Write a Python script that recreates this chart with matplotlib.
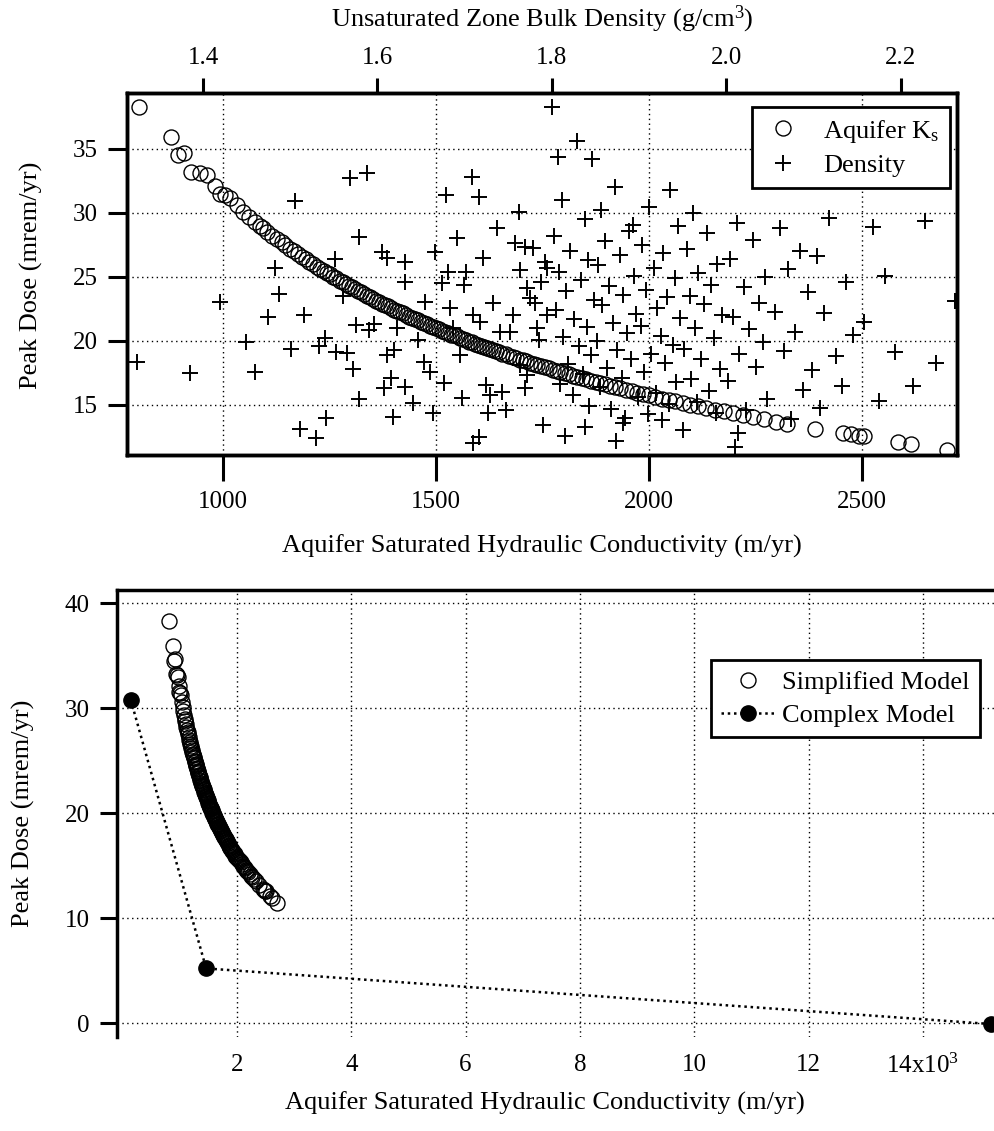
import matplotlib
matplotlib.use("Agg")
import matplotlib.pyplot as plt
from matplotlib.lines import Line2D

plt.rcParams['font.family'] = ['Liberation Serif', 'DejaVu Serif']
plt.rcParams['mathtext.fontset'] = 'custom'
plt.rcParams['mathtext.rm'] = 'Liberation Serif'
plt.rcParams['mathtext.it'] = 'Liberation Serif:italic'

# ---------------- data ----------------
# Simplified model: aquifer saturated hydraulic conductivity (m/yr) vs peak dose (mrem/yr)
ks_simpl = [802, 878, 894, 908, 926, 946, 962, 981, 993, 1005, 1016, 1032, 1048, 1062, 1074,
            1086, 1095, 1104, 1116, 1127, 1138, 1146, 1158, 1167, 1175, 1186, 1194, 1203, 1211,
            1220, 1228, 1236, 1244, 1251, 1259, 1266, 1274, 1281, 1289, 1296, 1303, 1310, 1318,
            1325, 1332, 1339, 1346, 1353, 1360, 1367, 1374, 1381, 1388, 1395, 1402, 1409, 1416,
            1423, 1430, 1437, 1444, 1451, 1458, 1465, 1472, 1479, 1486, 1493, 1500, 1507, 1514,
            1521, 1528, 1535, 1542, 1549, 1556, 1563, 1570, 1577, 1584, 1591, 1598, 1605, 1612,
            1619, 1626, 1633, 1640, 1648, 1656, 1664, 1672, 1680, 1688, 1696, 1704, 1712, 1720,
            1729, 1738, 1747, 1756, 1765, 1774, 1783, 1792, 1802, 1812, 1822, 1832, 1842, 1853,
            1864, 1875, 1886, 1897, 1909, 1921, 1933, 1946, 1959, 1972, 1986, 2000, 2015, 2030,
            2046, 2062, 2079, 2097, 2115, 2134, 2154, 2175, 2197, 2220, 2244, 2270, 2297, 2325,
            2390, 2455, 2475, 2492, 2505, 2585, 2615, 2700]
dose_simpl = [38.3, 35.9, 34.5, 34.7, 33.2, 33.1, 33.0, 32.1, 31.5, 31.4, 31.2, 30.6, 30.1, 29.7, 29.3,
              29.0, 28.8, 28.5, 28.2, 27.95, 27.7, 27.5, 27.2, 27.0, 26.8, 26.55, 26.4, 26.2, 26.0,
              25.8, 25.65, 25.5, 25.3, 25.2, 25.0, 24.9, 24.7, 24.6, 24.45, 24.3, 24.2, 24.05, 23.9,
              23.8, 23.65, 23.5, 23.4, 23.3, 23.15, 23.05, 22.9, 22.8, 22.7, 22.6, 22.45, 22.35, 22.25,
              22.15, 22.05, 21.9, 21.8, 21.7, 21.6, 21.5, 21.4, 21.3, 21.2, 21.1, 21.0, 20.9, 20.8,
              20.7, 20.6, 20.5, 20.45, 20.35, 20.25, 20.15, 20.05, 19.95, 19.9, 19.8, 19.7, 19.6, 19.55,
              19.45, 19.35, 19.3, 19.2, 19.1, 19.0, 18.95, 18.85, 18.75, 18.65, 18.55, 18.5, 18.4, 18.3,
              18.2, 18.1, 18.05, 17.95, 17.85, 17.75, 17.65, 17.6, 17.5, 17.4, 17.3, 17.2, 17.1, 17.0,
              16.9, 16.8, 16.7, 16.6, 16.5, 16.4, 16.3, 16.2, 16.1, 15.95, 15.85, 15.75, 15.6, 15.5,
              15.4, 15.3, 15.15, 15.0, 14.9, 14.75, 14.6, 14.5, 14.35, 14.2, 14.05, 13.9, 13.7, 13.55,
              13.15, 12.8, 12.7, 12.6, 12.55, 12.1, 11.95, 11.45]

# Unsaturated zone bulk density (g/cm3) vs peak dose (mrem/yr)
density = [1.324, 1.385, 1.419, 1.449, 1.460, 1.475, 1.482, 1.487, 1.501, 1.506, 1.516, 1.511,
           1.530, 1.541, 1.533, 1.540, 1.551, 1.553, 1.560, 1.565, 1.568, 1.572, 1.575, 1.579,
           1.588, 1.579, 1.590, 1.596, 1.605, 1.611, 1.611, 1.607, 1.616, 1.619, 1.618, 1.622,
           1.632, 1.632, 1.632, 1.641, 1.647, 1.655, 1.653, 1.660, 1.666, 1.664, 1.676, 1.679,
           1.681, 1.674, 1.683, 1.687, 1.691, 1.695, 1.697, 1.702, 1.699, 1.708, 1.716, 1.710,
           1.716, 1.710, 1.718, 1.721, 1.725, 1.727, 1.729, 1.733, 1.737, 1.741, 1.743, 1.748,
           1.752, 1.756, 1.758, 1.762, 1.764, 1.764, 1.769, 1.771, 1.769, 1.771, 1.775, 1.779,
           1.781, 1.783, 1.785, 1.788, 1.790, 1.792, 1.794, 1.794,
           1.838, 1.882, 1.950, 2.014, 2.010, 1.800,
           1.807, 1.829, 1.846, 1.812, 1.838, 1.803, 1.821, 1.842, 1.808, 1.833, 1.816, 1.848,
           1.805, 1.826, 1.840, 1.813, 1.831, 1.845, 1.818, 1.836, 1.809, 1.824, 1.843, 1.815,
           1.872, 1.856, 1.889, 1.861, 1.878, 1.853, 1.894, 1.866, 1.882, 1.858, 1.897, 1.870,
           1.886, 1.852, 1.875, 1.891, 1.863, 1.880, 1.855, 1.899, 1.868, 1.884, 1.874, 1.893,
           1.936, 1.912, 1.945, 1.904, 1.928, 1.917, 1.941, 1.908, 1.932, 1.921, 1.947, 1.902,
           1.925, 1.939, 1.914, 1.930, 1.906, 1.943, 1.919, 1.934, 1.910, 1.926,
           1.962, 1.978, 1.955, 1.990, 1.968, 1.983, 1.958, 1.975, 1.995, 1.964, 1.986, 1.952,
           1.971, 1.993, 1.960, 1.980, 1.966, 1.988,
           2.012, 2.031, 2.004, 2.045, 2.020, 2.038, 2.008, 2.026, 2.042, 2.015, 2.034, 2.002,
           2.047, 2.023,
           2.062, 2.085, 2.071, 2.094, 2.056, 2.079, 2.066, 2.098, 2.088, 2.074,
           2.118, 2.104, 2.137, 2.112, 2.145, 2.126, 2.133, 2.108,
           2.168, 2.182, 2.158, 2.194, 2.175,
           2.228, 2.262, 2.241, 2.214]
dose_density = [18.38, 17.48, 23.07, 19.95, 17.60, 21.90, 25.68, 23.65, 19.37, 30.94, 22.03, 13.10,
                12.40, 14.01, 19.63, 20.26, 26.41, 19.12, 23.54, 19.04, 32.76, 17.81, 21.25, 28.15,
                33.10, 15.47, 20.86, 21.30, 26.98, 26.46, 18.91, 16.30, 17.09, 19.30, 14.09, 20.99,
                26.20, 24.63, 16.43, 15.13, 20.08, 23.07, 18.38, 17.60, 26.98, 14.35, 16.70, 31.41,
                25.41, 24.51, 22.55, 20.99, 28.02, 18.91, 15.57, 25.41, 24.37, 32.84, 31.27, 12.01,
                12.52, 22.03, 21.51, 26.46, 16.56, 14.35, 15.78, 22.95, 28.80, 20.73, 16.04, 14.61,
                20.73, 22.03, 27.63, 30.10, 25.55, 18.12, 27.37, 17.34, 16.30, 24.12, 23.34, 27.24,
                22.95, 20.99, 20.08, 24.63, 13.44, 26.20, 22.03, 25.68,
                13.28, 13.59, 13.05, 12.81, 11.72, 38.28,
                34.4, 35.6, 34.2, 31.0, 29.5, 28.2, 27.0, 26.3, 25.4, 24.8, 23.9, 23.2,
                22.4, 21.7, 21.1, 20.3, 19.6, 18.9, 18.2, 17.4, 16.6, 15.8, 14.9, 12.6,
                32.0, 30.2, 28.6, 27.8, 26.7, 25.9, 25.1, 24.3, 23.6, 22.8, 22.1, 21.4,
                20.6, 20.0, 19.3, 18.6, 17.9, 17.1, 16.4, 15.6, 14.7, 14.0, 12.2, 29.1,
                31.8, 30.5, 29.0, 27.5, 26.9, 25.7, 24.9, 24.0, 23.4, 22.6, 21.8, 21.2,
                20.4, 19.7, 19.0, 18.3, 17.6, 16.8, 15.9, 15.1, 14.3, 13.8,
                30.0, 28.4, 27.2, 26.0, 25.3, 24.4, 23.5, 22.9, 22.0, 21.0, 20.2, 19.4,
                18.6, 17.8, 17.0, 16.1, 15.2, 14.4,
                29.2, 27.9, 26.4, 25.0, 24.2, 23.0, 21.9, 20.9, 19.9, 19.0, 18.0, 16.9,
                15.5, 14.6,
                28.8, 27.0, 25.6, 23.8, 22.3, 20.7, 19.2, 17.7, 16.2, 13.9,
                29.6, 26.6, 24.6, 22.2, 20.5, 18.8, 16.5, 14.8,
                28.9, 25.1, 21.5, 19.1, 15.3,
                29.4, 23.1, 18.3, 16.5]

# Complex model (m/yr, mrem/yr)
ks_complex = [140, 1460, 15200]
dose_complex = [30.8, 5.2, -0.1]

top_ks_ticks = [1000, 1500, 2000, 2500]
top_dose_ticks = [15, 20, 25, 30, 35]
density_ticks = [1.4, 1.6, 1.8, 2.0, 2.2]
density_labels = ['1.4', '1.6', '1.8', '2.0', '2.2']
bot_ks_ticks = [2000, 4000, 6000, 8000, 10000, 12000, 14000]
bot_ks_labels = ['2', '4', '6', '8', '10', '12', r'14x10$^\mathregular{3}$']
bot_dose_ticks = [0, 10, 20, 30, 40]

# ---------------- figure ----------------
W, H = 995, 1131
fig = plt.figure(figsize=(W / 100, H / 100), dpi=100)


def pos(l, t, r, b):
    return [l / W, 1 - b / H, (r - l) / W, (b - t) / H]


FS_T = 18
FS_L = 19
GRID = dict(color='black', linestyle=(0, (1, 2.5)), linewidth=1.0)
SPW = 2.5

# ---- top panel ----
ax1 = fig.add_axes(pos(127, 93, 957, 455))
ax1.set_xlim(774.6, 2723)
ax1.set_ylim(11.09, 39.375)
ax1.set_xticks(top_ks_ticks)
ax1.set_yticks(top_dose_ticks)
ax1.grid(True, **GRID)
ax1.set_axisbelow(True)
ax1.tick_params(axis='y', direction='out', length=14, width=2.2, labelsize=FS_T, pad=7)
ax1.tick_params(axis='x', direction='out', length=19, width=2.2, labelsize=FS_T, pad=7)
for s in ax1.spines.values():
    s.set_linewidth(SPW)
ax1.plot(ks_simpl, dose_simpl, linestyle='none', marker='o', mfc='none', mec='black',
         ms=10.8, mew=1.0)

ax1t = ax1.twiny()
ax1t.set_xlim(1.3128, 2.2647)
ax1t.set_xticks(density_ticks)
ax1t.set_xticklabels(density_labels)
ax1t.tick_params(axis='x', direction='out', length=11, width=2.2, labelsize=FS_T, pad=6)
for s in ax1t.spines.values():
    s.set_linewidth(SPW)
ax1t.plot(density, dose_density, linestyle='none', marker='+', color='black', ms=11, mew=1.4)

h_circ = Line2D([], [], linestyle='none', marker='o', mfc='none', mec='black', ms=10.8, mew=1.0)
h_plus = Line2D([], [], linestyle='none', marker='+', color='black', ms=11, mew=1.4)
leg1 = ax1t.legend([h_circ, h_plus], [r'Aquifer K$_\mathregular{s}$', 'Density'],
                   loc='upper right', bbox_to_anchor=(950 / W, 1 - 107 / H),
                   bbox_transform=fig.transFigure, fontsize=FS_L, fancybox=False,
                   framealpha=1, edgecolor='black', borderaxespad=0, handlelength=1.6,
                   handletextpad=0.7, labelspacing=0.35, borderpad=0.4)
leg1.get_frame().set_linewidth(2.0)

fig.text(542 / W, 1 - 19 / H, r'Unsaturated Zone Bulk Density (g/cm$^\mathregular{3}$)',
         ha='center', va='center', fontsize=FS_L)
fig.text(542 / W, 1 - 546 / H, 'Aquifer Saturated Hydraulic Conductivity (m/yr)',
         ha='center', va='center', fontsize=FS_L)
fig.text(31 / W, 1 - 275 / H, 'Peak Dose (mrem/yr)', ha='center', va='center',
         rotation=90, fontsize=FS_L)

# ---- bottom panel ----
ax2 = fig.add_axes(pos(117, 590, 995, 1037))
ax2.set_xlim(-99.7, 15263)
ax2.set_ylim(-1.33, 41.24)
ax2.set_xticks(bot_ks_ticks)
ax2.set_xticklabels(bot_ks_labels)
ax2.set_yticks(bot_dose_ticks)
ax2.grid(True, **GRID)
ax2.set_axisbelow(True)
ax2.spines['right'].set_visible(False)
ax2.spines['bottom'].set_visible(False)
for s in ['left', 'top']:
    ax2.spines[s].set_linewidth(SPW)
ax2.tick_params(axis='x', length=0, labelsize=FS_T, pad=12)
ax2.tick_params(axis='y', direction='out', length=12.5, width=2.2, labelsize=FS_T, pad=7)

ax2.plot(ks_simpl, dose_simpl, linestyle='none', marker='o', mfc='none', mec='black',
         ms=10.8, mew=1.0)
ax2.plot(ks_complex, dose_complex, linestyle=(0, (1, 1.5)), linewidth=1.8, color='black',
         marker='o', ms=11, clip_on=False)

h_s = Line2D([], [], linestyle='none', marker='o', mfc='none', mec='black', ms=10.8, mew=1.0)
h_c = Line2D([], [], linestyle=(0, (1, 1.5)), linewidth=1.8, color='black', marker='o', ms=11)
leg2 = ax2.legend([h_s, h_c], ['Simplified Model', 'Complex Model'],
                  loc='upper right', bbox_to_anchor=(980 / W, 1 - 660 / H),
                  bbox_transform=fig.transFigure, fontsize=FS_L, fancybox=False,
                  framealpha=1, edgecolor='black', borderaxespad=0, handlelength=2.0,
                  handletextpad=0.3, labelspacing=0.35, borderpad=0.4)
leg2.get_frame().set_linewidth(2.0)

fig.text(545 / W, 1 - 1103 / H, 'Aquifer Saturated Hydraulic Conductivity (m/yr)',
         ha='center', va='center', fontsize=FS_L)
fig.text(23 / W, 1 - 813 / H, 'Peak Dose (mrem/yr)', ha='center', va='center',
         rotation=90, fontsize=FS_L)

fig.savefig('out.png', dpi=100)
